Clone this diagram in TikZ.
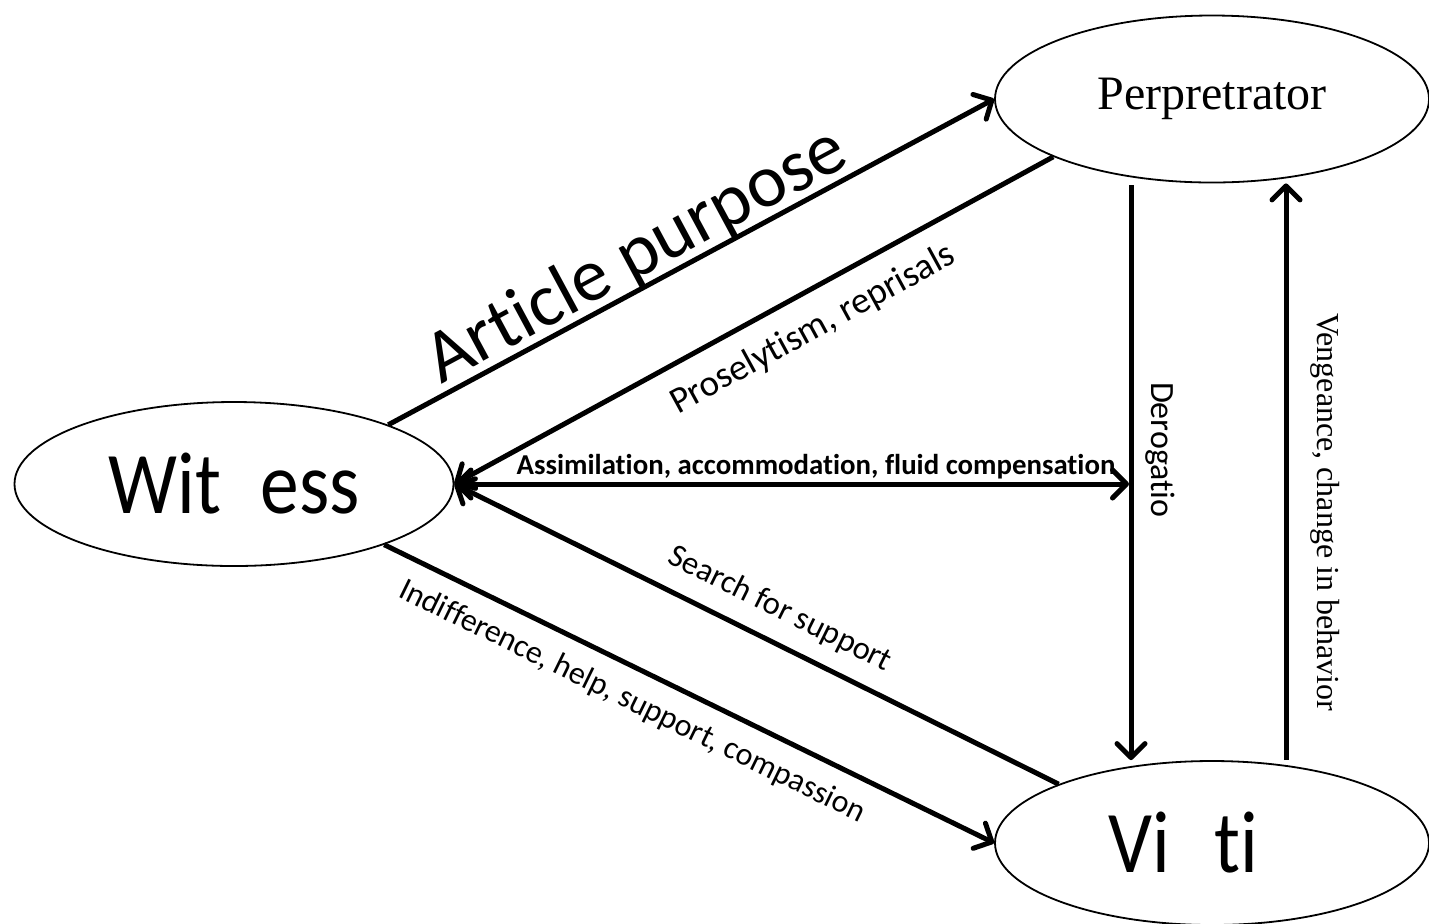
\documentclass[tikz,border=0pt]{standalone}
\usepackage{fontspec}
\setmainfont{Liberation Serif}
\newfontfamily\calibri[Ligatures=NoCommon]{Carlito}
\newfontfamily\condsans[Ligatures=NoCommon, FakeStretch=0.88]{Carlito}
\usetikzlibrary{arrows.meta,shapes.geometric}
\tikzset{
  actor/.style={draw, ellipse, line width=0.9pt, inner sep=0pt},
  rel/.style={line width=2.5pt, -{Straight Barb[round, length=7pt, width=14pt]}},
  twoway/.style={line width=2.5pt, {Straight Barb[round, length=7pt, width=14pt]}-{Straight Barb[round, length=7pt, width=14pt]}},
  lbl/.style={font=\calibri\fontsize{16.3}{18}\selectfont, inner sep=2pt},
}
\begin{document}
\begin{tikzpicture}[x=0.5pt, y=-0.5pt]
  \useasboundingbox (0,0) rectangle (1429,923);
  \draw
    (234,484) node[actor, minimum width=219.5pt, minimum height=82pt] (wit)
      {\condsans\fontsize{44}{44}\selectfont Wit\hspace{0.45em}ess}
    (1212,99) node[actor, minimum width=217pt, minimum height=83.5pt] (perp)
      {\fontsize{24}{24}\selectfont Perpretrator}
    (1212,843) node[actor, minimum width=217pt, minimum height=82pt] (vic)
      {\condsans\fontsize{44}{44}\selectfont Vi\kern0.5em ti\kern0.65em};
  \coordinate (meet) at (1129,484);
  % witness <-> perpetrator
  \draw[rel] (wit.21.7) -- (perp.west)
    node[pos=0.435, sloped, above, inner sep=0pt, yshift=-2pt, font=\calibri\fontsize{37.5}{40}\selectfont] (aim) {Article purpose};
  \draw[rel] (perp.200.2) -- (wit.east)
    node[lbl, pos=0.43, sloped, below, inner sep=9pt, font=\calibri\fontsize{18.5}{20}\selectfont] (pros) {Proselytism, reprisals};
  \draw[twoway] (wit.east) -- (meet)
    node[pos=0.536, above, inner sep=1pt, font=\calibri\bfseries\fontsize{14.4}{16}\selectfont] (assim) {Assimilation, accommodation, fluid compensation};
  % witness <-> victim
  \draw[rel] (vic.159.2) -- (wit.east)
    node[lbl, pos=0.485, sloped, above, inner sep=8pt] (srch) {Search for support};
  \draw[rel] (wit.-22) -- (vic.west)
    node[lbl, pos=0.43, sloped, below, inner sep=8pt, font=\calibri\fontsize{16}{18}\selectfont] (help) {Indifference, help, support, compassion};
  % perpetrator <-> victim
  \draw[rel] ([xshift=-40.5pt, yshift=-1pt]perp.south) -- ([xshift=-40.5pt]vic.north)
    node[pos=0.46, rotate=-90, anchor=south, inner sep=6pt, font=\calibri\fontsize{17}{18}\selectfont] (drg) {Derogatio};
  \draw[rel] ([xshift=37pt]vic.north) -- ([xshift=37pt]perp.south)
    node[pos=0.43, rotate=-90, anchor=south, inner sep=11pt, font=\fontsize{16}{18}\selectfont] (veng) {Vengeance, change in behavior};
\end{tikzpicture}
\end{document}
